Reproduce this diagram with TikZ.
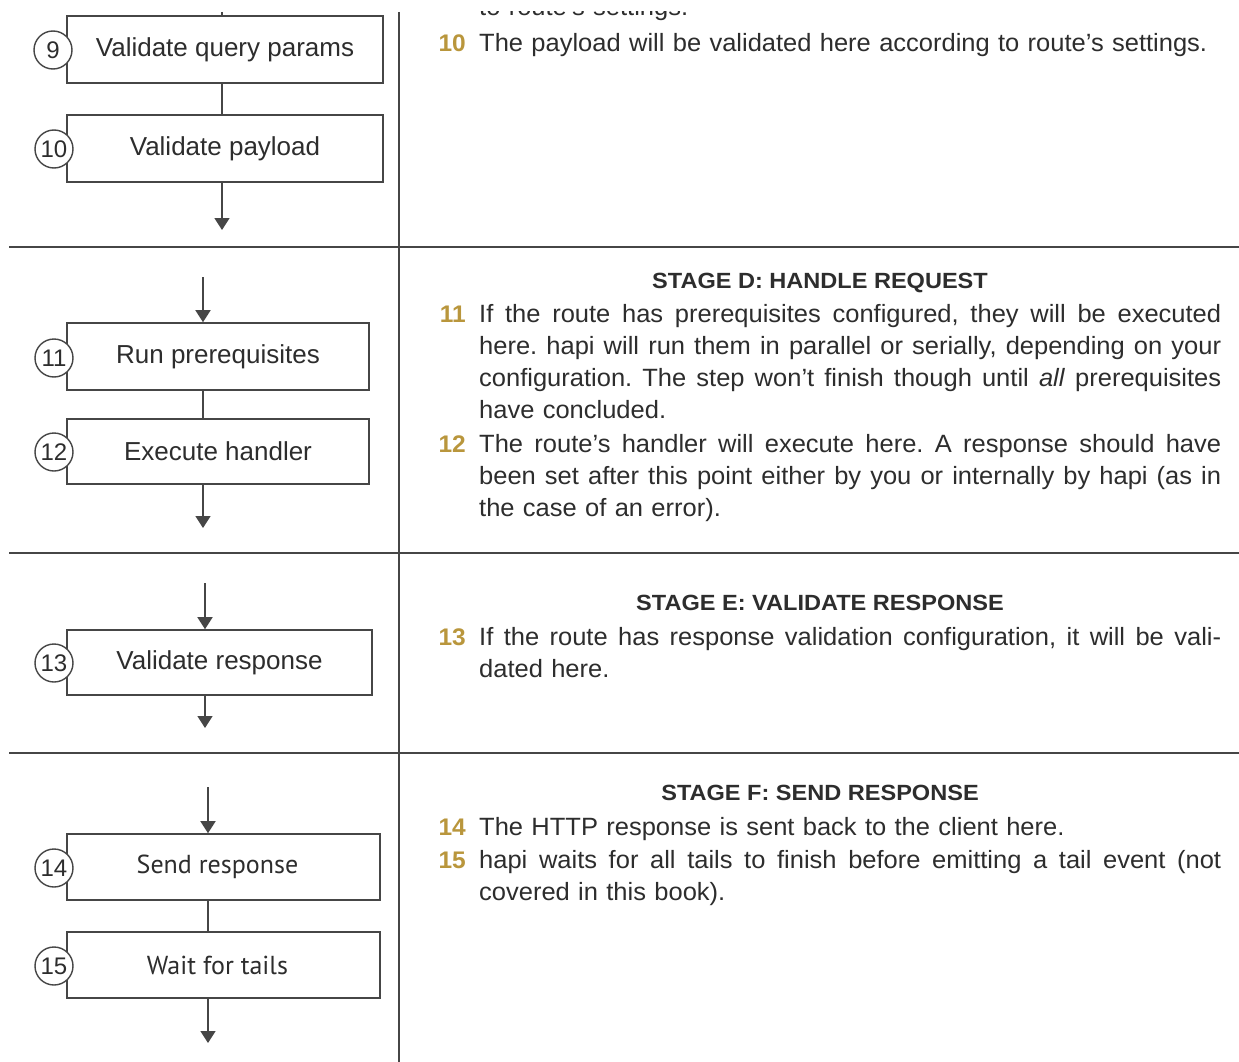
\documentclass[tikz,border=0pt]{standalone}
\usepackage{fontspec}
\setmainfont{Liberation Sans}
\newfontfamily\bodyfont[FakeStretch=1.02]{Liberation Sans}
\newfontfamily\headfont[FakeStretch=1.07]{Liberation Sans}
\newfontfamily\myriadlike{PT Sans}
\usetikzlibrary{arrows.meta}
\definecolor{gold}{RGB}{185,150,60}
\definecolor{ink}{RGB}{45,45,45}
\definecolor{rulec}{RGB}{70,70,70}
\setlength{\parindent}{0pt}
\frenchspacing
\newcommand\jlinex[1]{\hbox to 742pt{\spaceskip=0.27em plus 0.6em minus 0.08em\relax #1}\par}
\begin{document}
\begin{tikzpicture}[x=1pt,y=-1pt,
 stepbox/.style={draw=rulec, line width=1.6pt, fill=white, inner sep=0pt, font=\fontsize{26}{30}\selectfont, text=ink},
 numcirc/.style={circle, draw=rulec, line width=1.4pt, fill=white, minimum size=38pt, inner sep=0pt, font=\fontsize{24}{26}\selectfont, text=ink},
 link/.style={draw=rulec, line width=1.6pt},
 arr/.style={link, -{Triangle[width=15pt,length=12pt]}},
 sepline/.style={draw=rulec, line width=1.8pt},
 item/.style={anchor=base west, inner sep=0pt, text width=742pt, font=\bodyfont\fontsize{25}{32.3}\selectfont, text=ink, align=left},
 num/.style={anchor=base east, inner sep=0pt, font=\bodyfont\bfseries\fontsize{24}{30}\selectfont, text=gold},
 head/.style={anchor=base, inner sep=0pt, font=\headfont\bfseries\fontsize{22}{26}\selectfont, text=ink}
]
\useasboundingbox[fill=white] (0,0) rectangle (1239,1062);

% separators
\draw[sepline] (9,247) -- (1239,247);
\draw[sepline] (9,553) -- (1239,553);
\draw[sepline] (9,753) -- (1239,753);
\draw[sepline] (399,12) -- (399,1062);

% ---------- left column: flow ----------
\node[stepbox, minimum width=316pt, minimum height=67pt] (b9) at (225,49.5) {Validate query params};
\node[stepbox, minimum width=316pt, minimum height=67pt] (b10) at (225,148.5) {Validate payload};
\node[stepbox, minimum width=302pt, minimum height=67pt] (b11) at (218,356.5) {Run prerequisites};
\node[stepbox, minimum width=302pt, minimum height=65pt] (b12) at (218,451.5) {Execute handler};
\node[stepbox, minimum width=305pt, minimum height=65pt] (b13) at (219.5,662.5) {Validate response};
\node[stepbox, minimum width=313pt, minimum height=66pt, font=\myriadlike\fontsize{26}{30}\selectfont] (b14) at (223.5,867) {\hspace*{-12pt}Send response};
\node[stepbox, minimum width=313pt, minimum height=66pt, font=\myriadlike\fontsize{26}{30}\selectfont] (b15) at (223.5,965) {\hspace*{-12pt}Wait for tails};

\node[numcirc] (c9) at (53,50) {9};
\node[numcirc] (c10) at (54,149) {10};
\node[numcirc] (c11) at (54,358) {11};
\node[numcirc] (c12) at (54,452) {12};
\node[numcirc] (c13) at (54,663) {13};
\node[numcirc] (c14) at (54,868) {14};
\node[numcirc] (c15) at (54,966) {15};

% connectors
\coordinate (sC) at (222,12);
\coordinate (eC) at (222,230);
\draw[link] (sC) -- (sC |- b9.north);
\draw[link] (b9.south -| sC) -- (b10.north -| sC);
\draw[arr] (b10.south -| sC) -- (eC);

\coordinate (sD) at (203,277);
\coordinate (eD) at (203,528);
\draw[arr] (sD) -- (sD |- b11.north);
\draw[link] (b11.south -| sD) -- (b12.north -| sD);
\draw[arr] (b12.south -| sD) -- (eD);

\coordinate (sE) at (205,583);
\coordinate (eE) at (205,728);
\draw[arr] (sE) -- (sE |- b13.north);
\draw[arr] (b13.south -| sE) -- (eE);

\coordinate (sF) at (208,787);
\coordinate (eF) at (208,1043);
\draw[arr] (sF) -- (sF |- b14.north);
\draw[link] (b14.south -| sF) -- (b15.north -| sF);
\draw[arr] (b15.south -| sF) -- (eF);

% ---------- right column: text ----------
\begin{scope}
\clip (0,12) rectangle (1239,1062);
\node[item] (t9) at (479,16) {to route’s settings.};
\end{scope}

\node[item] (t10) at (479,52) {The payload will be validated here according to route’s settings.};
\node[num] (n10) at (466,52) {10};

\node[head] (hD) at (820,288) {STAGE D: HANDLE REQUEST};
\node[item] (t11) at (479,322) {\jlinex{If the route has prerequisites configured, they will be executed}\jlinex{here. hapi will run them in parallel or serially, depending on your}\jlinex{configuration. The step won’t finish though until \textit{all} prerequisites}have concluded.};
\node[num] (n11) at (466,322) {11};
\node[item] (t12) at (479,452) {\jlinex{The route’s handler will execute here. A response should have}\jlinex{been set after this point either by you or internally by hapi (as in}the case of an error).};
\node[num] (n12) at (466,452) {12};

\node[head] (hE) at (820,610) {STAGE E: VALIDATE RESPONSE};
\node[item] (t13) at (479,645) {\jlinex{If the route has response validation configuration, it will be vali-}dated here.};
\node[num] (n13) at (466,645) {13};

\node[head] (hF) at (820,800) {STAGE F: SEND RESPONSE};
\node[item] (t14) at (479,835) {The HTTP response is sent back to the client here.};
\node[num] (n14) at (466,835) {14};
\node[item] (t15) at (479,868) {\jlinex{hapi waits for all tails to finish before emitting a tail event (not}covered in this book).};
\node[num] (n15) at (466,868) {15};
\end{tikzpicture}
\end{document}
